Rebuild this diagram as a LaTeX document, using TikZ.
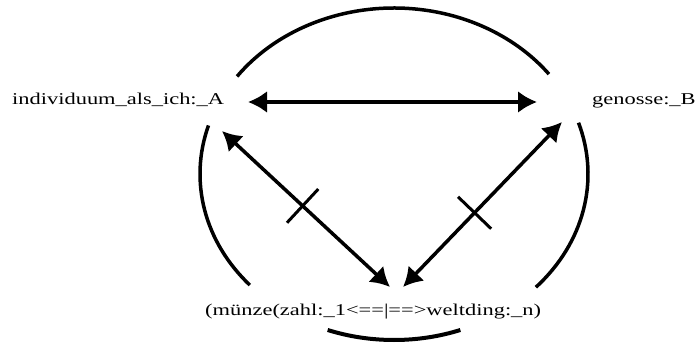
\documentclass[tikz,border=0pt]{standalone}
\usepackage{fontspec}
\setmainfont{Liberation Serif}[FakeStretch=1.36]
\usetikzlibrary{positioning}
\usetikzlibrary{arrows.meta, calc}

\tikzset{
  lbl/.style={font=\fontsize{16.5}{20}\selectfont, inner sep=0pt},
  dual/.style={line width=3.5pt, {Latex[length=19pt,width=22pt]}-{Latex[length=19pt,width=22pt]}},
  ring/.style={line width=3.5pt},
  tick/.style={line width=3pt}
}

\begin{document}
\begin{tikzpicture}[x=1pt, y=-1pt]
\useasboundingbox (0,0) rectangle (700,344);

\node[lbl, anchor=base west] (A) at (12,105) {individuum\_als\_ich:\_A};
\node[lbl, anchor=base west] (B) at (592,105) {genosse:\_B};
\node[lbl, anchor=base west] (C) at (205,315) {(münze(zahl:\_1<==|==>weltding:\_n)};

% arrow ends
\coordinate (ab) at (248,102);
\coordinate (ba) at (537,102);
\coordinate (ac) at (222,131);
\coordinate (ca) at (390,287);
\coordinate (cb) at (403,287);
\coordinate (bc) at (562,122);

\draw[dual] (ab) -- (ba);
\draw[dual] (ac) -- (ca);
\draw[dual] (cb) -- (bc);

% crossings
\coordinate (xa) at ($(ac)!0.48!(ca)$);
\coordinate (xb) at ($(cb)!0.45!(bc)$);
\draw[tick] ($(xa)!23pt!90:(ca)$) -- ($(xa)!23pt!-90:(ca)$);
\draw[tick] ($(xb)!23pt!90:(bc)$) -- ($(xb)!23pt!-90:(bc)$);

% circle pieces
\coordinate (O) at (394,174);
\draw[ring] (O) ++(-144:194 and 166) arc[start angle=-144, end angle=-37, x radius=194, y radius=166];
\draw[ring] (O) ++(138:194 and 166) arc[start angle=138, end angle=197, x radius=194, y radius=166];
\draw[ring] (O) ++(-18:194 and 166) arc[start angle=-18, end angle=43, x radius=194, y radius=166];
\draw[ring, line width=4pt] (O) ++(70:194 and 166) arc[start angle=70, end angle=110, x radius=194, y radius=166];

\end{tikzpicture}
\end{document}
